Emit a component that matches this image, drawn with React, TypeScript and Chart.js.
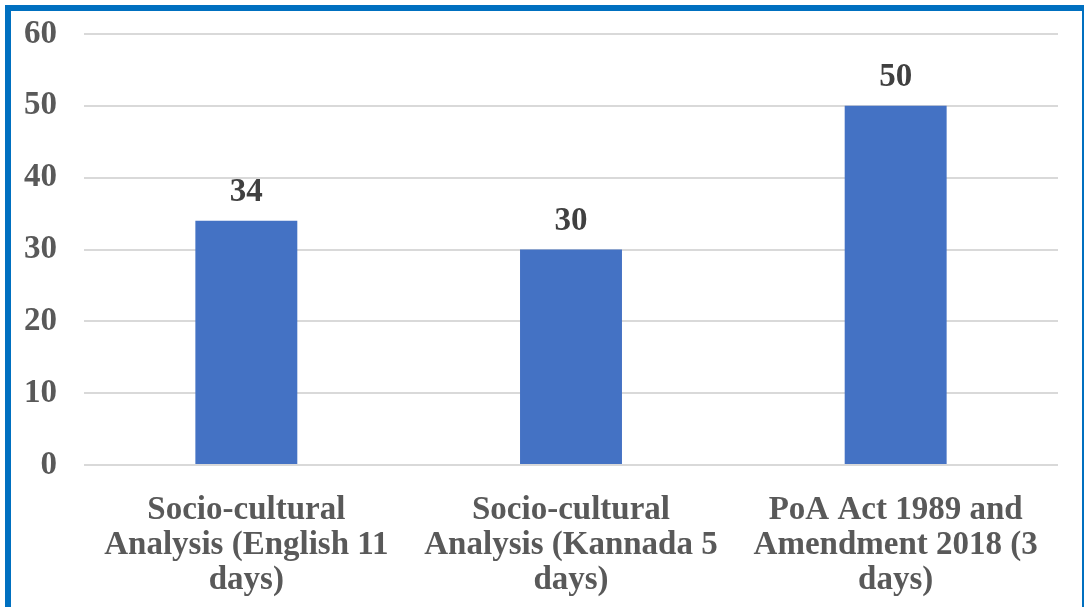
import React, { useEffect, useRef } from "react";
import { Chart, registerables } from "chart.js";

Chart.register(...registerables);

const categories: string[][] = [
  ["Socio-cultural", "Analysis (English 11", "days)"],
  ["Socio-cultural", "Analysis (Kannada 5", "days)"],
  ["PoA Act 1989 and", "Amendment 2018 (3", "days)"],
];
const values: number[] = [34, 30, 50];
const yTicks: number[] = [0, 10, 20, 30, 40, 50, 60];

const FONT = "'Liberation Serif', 'Times New Roman', serif";

const valueLabels = {
  id: "valueLabels",
  afterDatasetsDraw(chart: any) {
    const ctx = chart.ctx;
    const meta = chart.getDatasetMeta(0);
    ctx.save();
    ctx.font = `bold 33px ${FONT}`;
    ctx.fillStyle = "#404040";
    ctx.textAlign = "center";
    ctx.textBaseline = "alphabetic";
    meta.data.forEach((bar: any, i: number) => {
      ctx.fillText(String(values[i]), bar.x, bar.y - 20);
    });
    ctx.restore();
  },
};

export default function App() {
  const ref = useRef<HTMLCanvasElement | null>(null);
  useEffect(() => {
    if (!ref.current) return;
    const chart = new Chart(ref.current, {
      type: "bar",
      data: {
        labels: categories,
        datasets: [
          {
            data: values,
            backgroundColor: "#4472C4",
            categoryPercentage: 1,
            barPercentage: 0.314,
          },
        ],
      },
      options: {
        responsive: false,
        maintainAspectRatio: false,
        animation: false,
        layout: { padding: { top: 34, right: 26, left: 0, bottom: 0 } },
        plugins: { legend: { display: false }, tooltip: { enabled: false } },
        scales: {
          x: {
            grid: { display: false },
            border: { display: false },
            ticks: {
              color: "#595959",
              font: { family: FONT, size: 33, weight: "bold", lineHeight: 1.06 },
              padding: 20,
              maxRotation: 0,
              autoSkip: false,
            },
            afterFit: (s: any) => {
              s.height = 142;
              s.paddingLeft = 0;
              s.paddingRight = 0;
            },
          },
          y: {
            min: 0,
            max: 60,
            afterBuildTicks: (s: any) => {
              s.ticks = yTicks.map((v) => ({ value: v }));
            },
            grid: { color: "#D9D9D9", lineWidth: 2, drawTicks: false },
            border: { display: false },
            ticks: {
              color: "#595959",
              font: { family: FONT, size: 33, weight: "bold" },
              padding: 27,
            },
            afterFit: (s: any) => {
              s.width = 84;
              s.paddingTop = 0;
              s.paddingBottom = 0;
            },
          },
        },
      },
      plugins: [valueLabels],
    });
    return () => chart.destroy();
  }, []);

  return (
    <div
      style={{
        position: "absolute",
        top: 0,
        left: 0,
        width: 1084,
        height: 607,
        background: "#fff",
        overflow: "hidden",
      }}
    >
      <div
        style={{
          position: "absolute",
          top: 5,
          left: 5,
          width: 1079,
          height: 602,
          boxSizing: "border-box",
          borderTop: "6px solid #0070C0",
          borderLeft: "6px solid #0070C0",
          borderRight: "2px solid #0070C0",
        }}
      />
      <canvas
        ref={ref}
        width={1084}
        height={607}
        style={{ position: "absolute", top: 0, left: 0, width: 1084, height: 607 }}
      />
    </div>
  );
}
